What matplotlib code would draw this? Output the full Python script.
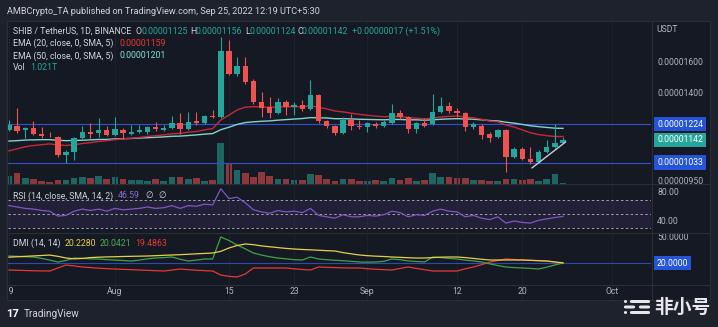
import matplotlib
matplotlib.use("Agg")
import matplotlib.pyplot as plt
from matplotlib.patches import FancyBboxPatch, Rectangle
from matplotlib.transforms import blended_transform_factory
import pandas as pd

# ---------------- data (prices in units of 1e-8 USDT) ----------------
start_date = "2022-07-19"
opens = [1193, 1214, 1193, 1203, 1172, 1162, 1157, 1069, 1083, 1152, 1182, 1177, 1193, 1167,
         1193, 1172, 1182, 1182, 1208, 1193, 1203, 1230, 1198, 1241, 1230, 1268, 1263, 1687,
         1525, 1579, 1479, 1348, 1319, 1285, 1348, 1319, 1331, 1308, 1390, 1241, 1214, 1177,
         1246, 1214, 1208, 1224, 1214, 1230, 1285, 1263, 1198, 1230, 1224, 1291, 1325, 1296,
         1285, 1208, 1214, 1172, 1157, 1193, 1060, 1098, 1051, 1037, 1083, 1107, 1125]
highs = [1246, 1313, 1208, 1241, 1208, 1182, 1162, 1093, 1157, 1214, 1230, 1257, 1214, 1263,
         1203, 1219, 1219, 1214, 1235, 1219, 1268, 1285, 1291, 1291, 1274, 1302, 1790, 1770,
         1643, 1643, 1492, 1409, 1378, 1372, 1360, 1348, 1360, 1485, 1397, 1246, 1219, 1263,
         1279, 1246, 1235, 1235, 1246, 1336, 1302, 1268, 1235, 1257, 1397, 1378, 1348, 1313,
         1291, 1235, 1224, 1182, 1198, 1198, 1107, 1107, 1107, 1093, 1141, 1224, 1156]
lows = [1188, 1177, 1152, 1167, 1152, 1157, 1060, 1032, 1046, 1146, 1152, 1157, 1162, 1162,
        1146, 1167, 1177, 1172, 1188, 1188, 1198, 1172, 1193, 1219, 1224, 1257, 1257, 1518,
        1510, 1460, 1336, 1263, 1257, 1279, 1274, 1274, 1296, 1302, 1230, 1203, 1167, 1172,
        1193, 1198, 1182, 1203, 1208, 1224, 1252, 1177, 1177, 1208, 1219, 1285, 1285, 1263,
        1188, 1198, 1146, 1131, 1152, 992, 1055, 1046, 1028, 1032, 1079, 1102, 1124]
closes = [1219, 1188, 1203, 1172, 1162, 1160, 1069, 1083, 1152, 1182, 1172, 1193, 1167, 1198,
          1177, 1182, 1193, 1208, 1198, 1203, 1230, 1198, 1235, 1230, 1268, 1263, 1687, 1525,
          1579, 1472, 1348, 1313, 1285, 1348, 1319, 1331, 1308, 1390, 1241, 1214, 1177, 1246,
          1214, 1208, 1230, 1214, 1235, 1285, 1263, 1198, 1230, 1214, 1291, 1325, 1296, 1285,
          1208, 1224, 1167, 1152, 1193, 1060, 1098, 1051, 1037, 1083, 1107, 1125, 1142]
volumes_T = [8, 11, 6, 5, 3, 2, 4, 4, 6, 7, 6, 8, 5, 7, 5, 4, 4, 3, 5, 3, 7, 7, 5, 6, 3, 4,
             41, 21, 14, 11, 7, 12, 8, 5, 5, 4, 4, 10, 9, 5, 3, 5, 5, 3, 3, 4, 3, 6, 4, 6, 3, 4,
             11, 7, 7, 6, 6, 4, 4, 3, 3, 5, 5, 4, 5, 3, 5, 10, 1.021]
ema20 = [1088, 1098, 1108, 1114, 1118, 1122, 1117, 1114, 1118, 1124, 1128, 1134, 1138, 1143,
         1147, 1150, 1154, 1159, 1163, 1167, 1173, 1175, 1181, 1185, 1193, 1200, 1246, 1273,
         1302, 1318, 1321, 1320, 1317, 1320, 1320, 1321, 1320, 1326, 1318, 1308, 1296, 1291,
         1284, 1277, 1272, 1267, 1264, 1266, 1265, 1259, 1256, 1252, 1256, 1263, 1266, 1268,
         1262, 1258, 1250, 1240, 1236, 1219, 1208, 1193, 1178, 1169, 1163, 1159, 1159]
ema50 = [1136, 1138, 1141, 1142, 1143, 1143, 1140, 1138, 1139, 1140, 1142, 1144, 1144, 1147,
         1148, 1149, 1151, 1153, 1155, 1157, 1160, 1161, 1164, 1167, 1171, 1174, 1194, 1207,
         1222, 1232, 1236, 1239, 1241, 1245, 1248, 1251, 1254, 1259, 1258, 1257, 1253, 1253,
         1252, 1250, 1249, 1248, 1247, 1249, 1249, 1247, 1247, 1245, 1247, 1250, 1252, 1253,
         1252, 1250, 1247, 1243, 1241, 1234, 1229, 1222, 1215, 1210, 1206, 1202, 1201]
rsi = [62, 60, 58, 57, 55, 54, 47, 48, 54, 57, 55, 57, 54, 58, 56, 57, 58, 60, 58, 59, 62, 58,
       62, 61, 64, 63, 86, 72, 74, 66, 56, 53, 51, 55, 53, 54, 52, 58, 48, 46, 44, 49, 46, 46,
       48, 47, 49, 54, 52, 46, 49, 48, 54, 57, 54, 53, 46, 48, 44, 42, 46, 37, 40, 38, 37, 41,
       43, 45, 46.59]
dmi_yellow = [27, 27.5, 28, 28.5, 29, 29.5, 28, 26, 25, 25.5, 26.5, 27, 27.3, 27.5, 27.8, 28,
              28.2, 28.4, 28.8, 29.2, 29.6, 30, 30.5, 31, 31.5, 32, 34, 38, 41, 42.8, 42, 40.5,
              39.5, 38.5, 37.5, 36.8, 36.2, 35.8, 35.3, 34.8, 34.4, 32.5, 31, 29.6, 28.8, 28.2,
              27.8, 27.2, 26.8, 26.3, 26, 26, 26.5, 27, 27.2, 27.2, 26.5, 25.5, 24.5, 23.6,
              23.6, 23.6, 23.6, 23.6, 23.2, 22.8, 22.4, 21.3, 20.228]
dmi_green = [28.4, 28, 27.5, 27.2, 25.5, 23.5, 21.2, 23, 26, 25.5, 25, 24.8, 24, 23.5, 23, 22.4,
             23.5, 25, 26, 26.5, 27.2, 24.5, 22.4, 23.5, 24.8, 24.8, 51.2, 47, 41.6, 37, 32,
             29.5, 27.5, 26, 25, 24, 23.6, 27.2, 24.8, 24, 23.2, 22.8, 22, 21.2, 21, 21.2, 22,
             24.8, 24, 22.5, 21.8, 21.2, 27.2, 26.5, 25.5, 24.8, 23.5, 22.5, 21.2, 19, 17,
             15.2, 14.5, 14, 13.5, 12.8, 15, 17.6, 20.0421]
dmi_red = [11.6, 11.3, 11, 10.7, 10.5, 10.4, 14, 17.6, 16.5, 15.2, 14.5, 13.8, 13.2, 12.8, 12.4,
           12, 11.6, 11.2, 10.8, 10.4, 11.5, 12.8, 12, 11.3, 10.8, 10.4, 5.6, 4, 3.2, 6.8, 14,
           14, 14, 14, 14, 13, 12.2, 11.6, 15.2, 14.8, 14.5, 14.2, 14, 14, 13.2, 12.5, 12,
           11.6, 13.5, 15.2, 13.5, 12, 10.4, 10.4, 10.4, 10.4, 13, 15.2, 18, 21, 23, 24.8,
           24.2, 23.6, 23.2, 22.8, 22.4, 21, 19.4863]
level_lines = [1224, 1033]          # user drawn horizontal lines
trend_idx = [64.2, 68.3]            # user drawn trend line (candle index)
trend_price = [1010, 1131]
price_ticks = [1600, 1400, 950]
rsi_levels = [70, 50, 30]
rsi_ticks = [80, 40]
dmi_ticks = [50]
dmi_level = 20
date_labels = ["19", "Aug", "15", "23", "Sep", "12", "20", "Oct"]
date_values = ["2022-07-19", "2022-08-01", "2022-08-15", "2022-08-23", "2022-09-01",
               "2022-09-12", "2022-09-20", "2022-10-01"]

# ---------------- style ----------------
BG = "#151924"
OUT = "#1e222d"
SEP = "#2a2e39"
TXT = "#d1d4dc"
AX = "#b2b5be"
UP = "#26a69a"
DN = "#ef5350"
FONT = ["Roboto", "DejaVu Sans"]
plt.rcParams["font.family"] = FONT
LS = 6.3   # legend font size
AS = 6.2   # axis font size

W, H = 718, 327
fig = plt.figure(figsize=(W / 100, H / 100), dpi=100, facecolor=OUT)


def rect(x0, y0, x1, y1):
    return [x0 / W, 1 - y1 / H, (x1 - x0) / W, (y1 - y0) / H]


def fy(y):
    return 1 - y / H


def fx(x):
    return x / W


fig.add_artist(Rectangle((fx(7), fy(300)), (710 - 7) / W, (300 - 21) / H,
                         transform=fig.transFigure, facecolor=BG, edgecolor=SEP, lw=0.8,
                         zorder=0))

n = len(closes)
idx = list(range(n))
start = pd.Timestamp(start_date)
date_pos = [(pd.Timestamp(d) - start).days for d in date_values]
XL = (-0.12, 78.8)
PL, PR = 8, 651


def style(ax):
    ax.set_xlim(*XL)
    ax.set_facecolor("none")
    for s in ax.spines.values():
        s.set_visible(False)
    ax.set_xticks([])
    ax.set_yticks([])
    ax.minorticks_off()
    for p in date_pos:
        ax.axvline(p, color="#1d212c", lw=0.8, zorder=0)


# ---------------- main pane ----------------
ax_vol = fig.add_axes(rect(PL, 22, PR, 184))
style(ax_vol)
ax_vol.set_ylim(0, 162)
vcol = [UP if c >= o else DN for o, c in zip(opens, closes)]
ax_vol.bar(idx, volumes_T, width=0.82, color=vcol, alpha=0.55, linewidth=0)

ax = fig.add_axes(rect(PL, 22, PR, 184))
ax.set_yscale("log")
style(ax)
ax.set_ylim(941, 1915)
ax.minorticks_off()
ax.set_yticks([])
for lv in level_lines:
    ax.axhline(lv, color="#3052d0", lw=0.8, zorder=1)
ax.plot(idx, ema50, color="#80d4cb", lw=1.0, zorder=2)
ax.plot(idx, ema20, color="#c8283a", lw=1.0, zorder=2)
ccol = [UP if c >= o else DN for o, c in zip(opens, closes)]
ax.vlines(idx, lows, highs, colors=ccol, lw=0.8, zorder=3)
bottoms = [min(o, c) for o, c in zip(opens, closes)]
heights = [max(abs(c - o), b * 0.003) for o, c, b in zip(opens, closes, bottoms)]
ax.bar(idx, heights, bottom=bottoms, width=0.66, color=ccol, linewidth=0, zorder=4)
ax.plot(trend_idx, trend_price, color="#c9cbd6", lw=1.0, zorder=5)


def t(x, y, s, c=TXT, size=LS, **kw):
    fig.text(fx(x), fy(y), s, color=c, fontsize=size, va="center", ha="left", **kw)


def fmt8(v):
    return f"{v * 1e-8:.8f}"


t(7, 11, "AMBCrypto_TA published on TradingView.com, Sep 25, 2022 12:19 UTC+5:30", size=6.6)
t(13, 31, "SHIB / TetherUS, 1D, BINANCE")
t(136, 31, "O"); t(141, 31, fmt8(opens[-1]), UP)
t(190, 31, "H"); t(195, 31, fmt8(highs[-1]), UP)
t(245, 31, "L"); t(249, 31, fmt8(lows[-1]), UP)
t(297, 31, "C"); t(302, 31, fmt8(closes[-1]), UP)
chg = closes[-1] - closes[-2]
t(352, 31, f"+{fmt8(chg)} (+{chg / closes[-2] * 100:.2f}%)", UP)
t(13, 43, "EMA (20, close, 0, SMA, 5)"); t(119, 43, fmt8(ema20[-1]), "#e53935")
t(13, 56, "EMA (50, close, 0, SMA, 5)"); t(119, 56, fmt8(ema50[-1]), "#7fe0d3")
t(13, 68, "Vol"); t(30, 68, f"{volumes_T[-1]:.3f}T", UP)

# price scale
t(656, 30, "USDT", AX, size=AS)
bt = blended_transform_factory(fig.transFigure, ax.transData)
for p in price_ticks:
    ax.text(fx(657), p, fmt8(p), transform=bt, color=AX, fontsize=AS,
            va="center", ha="left", clip_on=False)
for p, col in [(level_lines[0], "#2554d9"), (closes[-1], UP), (level_lines[1], "#2554d9")]:
    ax.text(fx(657), p, fmt8(p), transform=bt, color="white", fontsize=AS,
            va="center", ha="left", clip_on=False, zorder=10,
            bbox=dict(boxstyle="square,pad=0.32", fc=col, ec="none"))

# ---------------- RSI pane ----------------
ax_r = fig.add_axes(rect(PL, 185, PR, 232))
style(ax_r)
ax_r.set_ylim(24.3, 91.4)
ax_r.axhspan(rsi_levels[-1], rsi_levels[0], color="#7e57c2", alpha=0.12, lw=0)
for lv in rsi_levels:
    ax_r.axhline(lv, color="#a0a3ab", lw=0.7, ls=(0, (2.5, 2.5)))
ax_r.plot(idx, rsi, color="#7e57c2", lw=0.9)
t(13, 196, "RSI (14, close, SMA, 14, 2)")
t(118, 196, f"{rsi[-1]:.2f}", "#8d6bd1")
t(145, 196, "\u2205", TXT, family=["DejaVu Sans"])
t(158, 196, "\u2205", TXT, family=["DejaVu Sans"])
bt_r = blended_transform_factory(fig.transFigure, ax_r.transData)
for v in rsi_ticks:
    ax_r.text(fx(657), v, f"{v:.2f}", transform=bt_r, color=AX, fontsize=AS,
              va="center", ha="left", clip_on=False)

# ---------------- DMI pane ----------------
ax_d = fig.add_axes(rect(PL, 233, PR, 284))
style(ax_d)
ax_d.set_ylim(-5.2, 56)
ax_d.axhline(dmi_level, color="#2a4bb0", lw=0.8)
ax_d.plot(idx, dmi_red, color="#e53935", lw=0.9)
ax_d.plot(idx, dmi_green, color="#43a047", lw=0.9)
ax_d.plot(idx, dmi_yellow, color="#e6d04a", lw=0.9)
t(13, 243, "DMI (14, 14)")
t(65, 243, f"{dmi_yellow[-1]:.4f}", "#e6d04a")
t(100, 243, f"{dmi_green[-1]:.4f}", "#4caf50")
t(135, 243, f"{dmi_red[-1]:.4f}", "#e53935")
bt_d = blended_transform_factory(fig.transFigure, ax_d.transData)
for v in dmi_ticks:
    ax_d.text(fx(657), v, f"{v:.4f}", transform=bt_d, color=AX, fontsize=AS,
              va="center", ha="left", clip_on=False)
ax_d.text(fx(657), dmi_level, f"{dmi_level:.4f}", transform=bt_d, color="white",
          fontsize=AS, va="center", ha="left", clip_on=False,
          bbox=dict(boxstyle="square,pad=0.32", fc="#2554d9", ec="none"))

# ---------------- date axis ----------------
ax_t = fig.add_axes(rect(PL, 284, PR, 300))
style(ax_t)
ax_t.set_ylim(0, 1)
for lab, p in zip(date_labels, date_pos):
    ax_t.text(p, 0.5, lab, color=AX, fontsize=AS, ha="center", va="center", clip_on=True)

# separators
for y in (184.5, 232.5, 284.5):
    fig.add_artist(plt.Line2D([fx(7), fx(710)], [fy(y), fy(y)], color=SEP, lw=0.8,
                              transform=fig.transFigure))
fig.add_artist(plt.Line2D([fx(651.5), fx(651.5)], [fy(21), fy(300)], color=SEP, lw=0.8,
                          transform=fig.transFigure))

# ---------------- footer ----------------
t(6, 314, "17", "white", size=8, weight="bold")
t(24, 314, "TradingView", "#d1d4dc", size=7.2)
for (x0, x1, y0) in [(624, 627, 300), (630, 650, 300), (624, 635, 305.5), (639, 650, 305.5),
                     (624, 627, 311), (630, 650, 311)]:
    fig.add_artist(FancyBboxPatch((fx(x0), fy(y0 + 3)), (x1 - x0) / W, 3 / H,
                                  boxstyle="round,pad=0,rounding_size=0.003",
                                  transform=fig.transFigure, fc="#e8e8ea", ec="none"))
fig.text(fx(654), fy(307), "非小号", color="#e8e8ea", fontsize=13.5, weight="bold",
         va="center", ha="left", family=["Noto Sans CJK SC", "DejaVu Sans"])

fig.savefig("out.png", dpi=100, facecolor=OUT)
